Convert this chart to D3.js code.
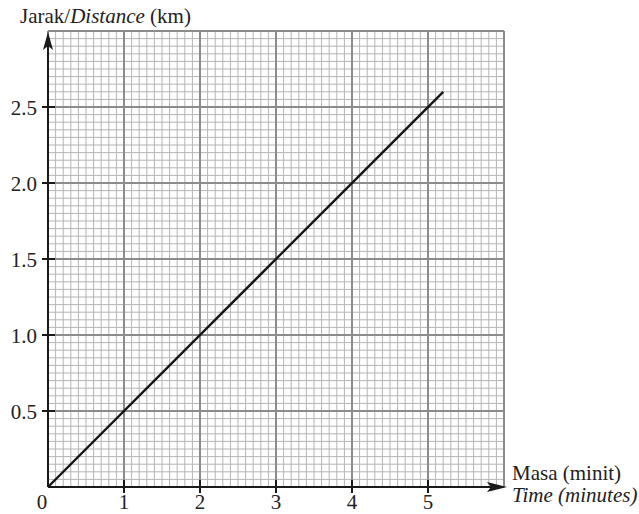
<!DOCTYPE html>
<html><head><meta charset="utf-8">
<script src="https://cdn.jsdelivr.net/npm/d3@7"></script>
<style>body{margin:0;background:#fff}svg{display:block}text{font-family:"Liberation Serif","Times New Roman",serif;fill:#222}</style>
</head><body>
<script>
const xTicks = [0, 1, 2, 3, 4, 5];
const yTicks = [0.5, 1.0, 1.5, 2.0, 2.5];
const lineTime = [0, 5.2];
const lineDistance = [0, 2.6];
const yTitle = ["Jarak/", "Distance", " (km)"];
const xTitle1 = "Masa (minit)";
const xTitle2 = "Time (minutes)";

const W = 639, H = 514;
const svg = d3.select("body").append("svg").attr("width", W).attr("height", H);
const x = d3.scaleLinear().domain([0, 6]).range([48, 504]);
const y = d3.scaleLinear().domain([0, 3]).range([487, 31]);

const g = svg.append("g");
const minorX = d3.range(0, 61).map(i => i / 10);
const minorY = d3.range(0, 61).map(i => i / 20);
g.selectAll(".mvx").data(minorX).join("line")
  .attr("x1", d => x(d)).attr("x2", d => x(d)).attr("y1", y(0)).attr("y2", y(3))
  .attr("stroke", "#b4b4b4").attr("stroke-width", 1);
g.selectAll(".mhy").data(minorY).join("line")
  .attr("x1", x(0)).attr("x2", x(6)).attr("y1", d => y(d)).attr("y2", d => y(d))
  .attr("stroke", "#b4b4b4").attr("stroke-width", 1);
const majorX = d3.range(0, 7);
const majorY = d3.range(0, 7).map(i => i / 2);
g.selectAll(".Mvx").data(majorX).join("line")
  .attr("x1", d => x(d)).attr("x2", d => x(d)).attr("y1", y(0)).attr("y2", y(3))
  .attr("stroke", "#8c8c8c").attr("stroke-width", 2);
g.selectAll(".Mhy").data(majorY).join("line")
  .attr("x1", x(0)).attr("x2", x(6)).attr("y1", d => y(d)).attr("y2", d => y(d))
  .attr("stroke", "#8c8c8c").attr("stroke-width", 2);

const axc = "#1a1a1a";
svg.append("line").attr("x1", x(0)).attr("x2", 492).attr("y1", y(0)).attr("y2", y(0))
  .attr("stroke", axc).attr("stroke-width", 2);
svg.append("path").attr("d", `M507,${y(0)} L487,${y(0)-5} L491,${y(0)} L487,${y(0)+5} Z`).attr("fill", axc);
svg.append("line").attr("x1", x(0)).attr("x2", x(0)).attr("y1", y(0)).attr("y2", 45)
  .attr("stroke", axc).attr("stroke-width", 2);
svg.append("path").attr("d", `M${x(0)},32 L${x(0)-5},50 L${x(0)},46 L${x(0)+5},50 Z`).attr("fill", axc);

svg.selectAll(".xt").data(xTicks.filter(d => d > 0)).join("line")
  .attr("x1", d => x(d)).attr("x2", d => x(d)).attr("y1", y(0) - 7).attr("y2", y(0) + 6)
  .attr("stroke", axc).attr("stroke-width", 2);
svg.selectAll(".yt").data(yTicks).join("line")
  .attr("x1", x(0) - 6).attr("x2", x(0) + 7).attr("y1", d => y(d)).attr("y2", d => y(d))
  .attr("stroke", axc).attr("stroke-width", 2);

const fs = 21;
svg.selectAll(".xl").data(xTicks).join("text")
  .attr("x", d => d === 0 ? 42 : x(d)).attr("y", 509)
  .attr("text-anchor", "middle").attr("font-size", fs).text(d => d);
svg.selectAll(".yl").data(yTicks).join("text")
  .attr("x", 37).attr("y", d => y(d) + 8)
  .attr("text-anchor", "end").attr("font-size", fs).text(d => d.toFixed(1));

const t = svg.append("text").attr("x", 20).attr("y", 23).attr("font-size", fs);
t.append("tspan").text(yTitle[0]);
t.append("tspan").attr("font-style", "italic").text(yTitle[1]);
t.append("tspan").text(yTitle[2]);
svg.append("text").attr("x", 512).attr("y", 480).attr("font-size", fs).text(xTitle1);
svg.append("text").attr("x", 512).attr("y", 502).attr("font-size", fs).attr("font-style", "italic").text(xTitle2);

const pts = lineTime.map((t, i) => [t, lineDistance[i]]);
svg.append("path").datum(pts)
  .attr("d", d3.line().x(d => x(d[0])).y(d => y(d[1])))
  .attr("fill", "none").attr("stroke", "#151515").attr("stroke-width", 2.4);
</script>
</body></html>
